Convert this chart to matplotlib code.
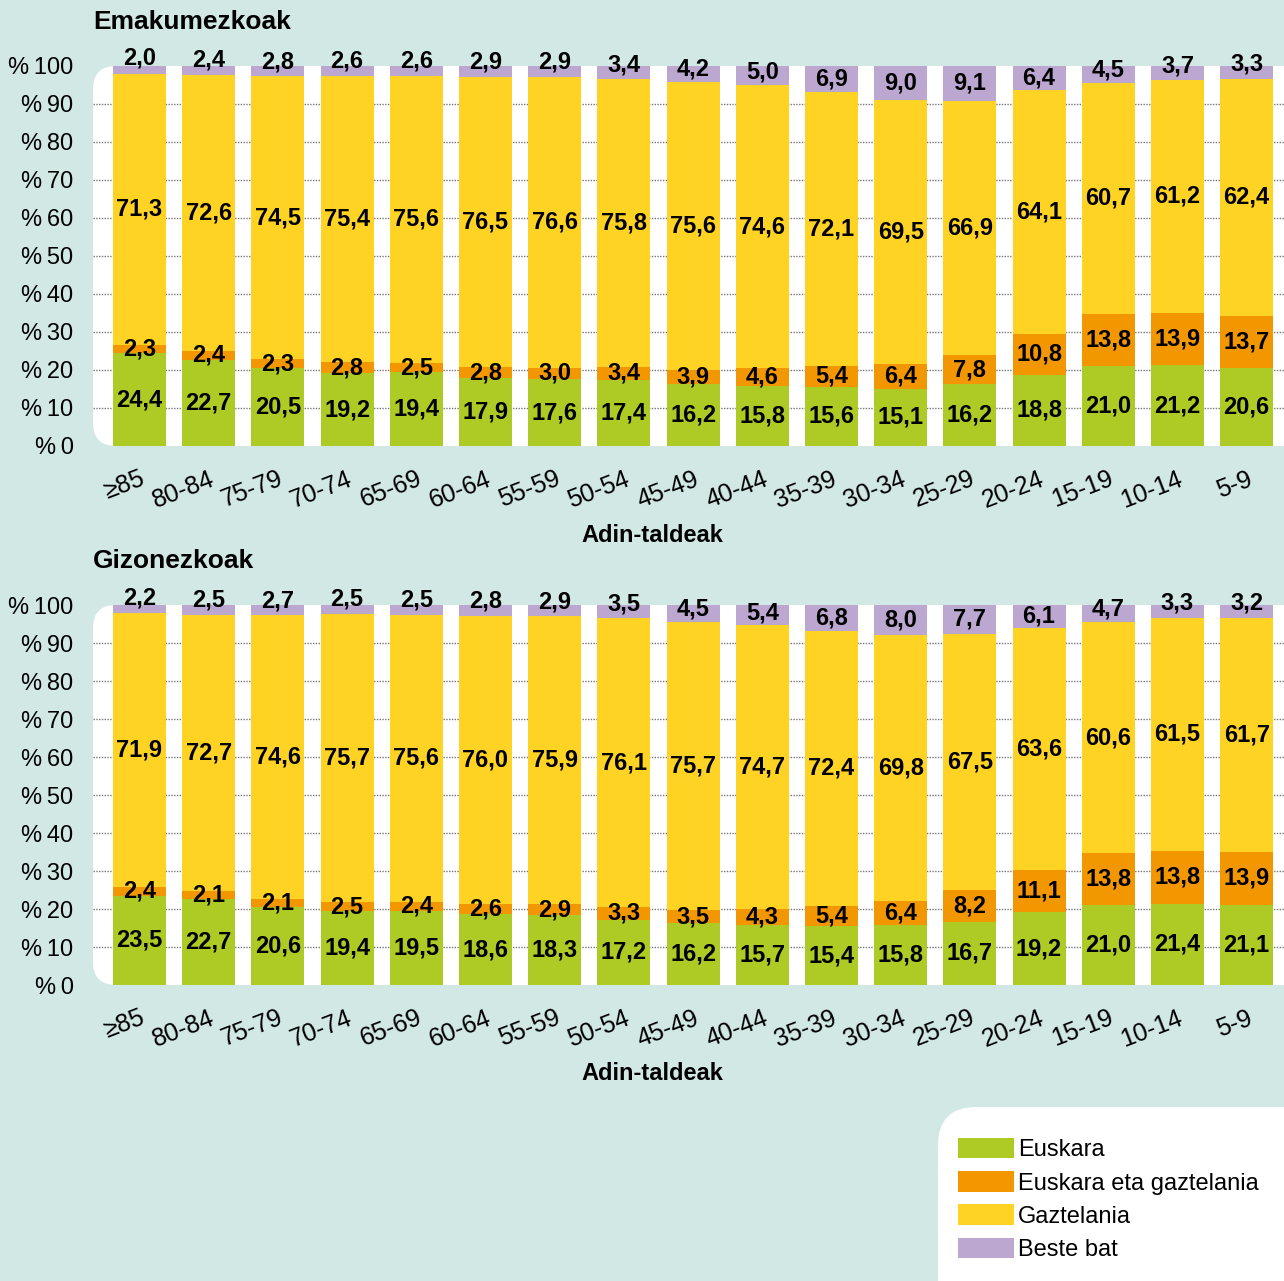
import numpy as np
import matplotlib
matplotlib.use('Agg')
from matplotlib import pyplot as plt
from matplotlib.patches import FancyBboxPatch, Patch
from matplotlib.transforms import ScaledTranslation

plt.rcParams['font.family'] = ['Liberation Sans', 'DejaVu Sans']

groups = ['≥85', '80-84', '75-79', '70-74', '65-69', '60-64', '55-59', '50-54',
          '45-49', '40-44', '35-39', '30-34', '25-29', '20-24', '15-19', '10-14', '5-9']
series_names = ['Euskara', 'Euskara eta gaztelania', 'Gaztelania', 'Beste bat']

# Emakumezkoak
w_eusk = [24.4, 22.7, 20.5, 19.2, 19.4, 17.9, 17.6, 17.4, 16.2, 15.8, 15.6, 15.1, 16.2, 18.8, 21.0, 21.2, 20.6]
w_bi = [2.3, 2.4, 2.3, 2.8, 2.5, 2.8, 3.0, 3.4, 3.9, 4.6, 5.4, 6.4, 7.8, 10.8, 13.8, 13.9, 13.7]
w_gazt = [71.3, 72.6, 74.5, 75.4, 75.6, 76.5, 76.6, 75.8, 75.6, 74.6, 72.1, 69.5, 66.9, 64.1, 60.7, 61.2, 62.4]
w_beste = [2.0, 2.4, 2.8, 2.6, 2.6, 2.9, 2.9, 3.4, 4.2, 5.0, 6.9, 9.0, 9.1, 6.4, 4.5, 3.7, 3.3]

# Gizonezkoak
m_eusk = [23.5, 22.7, 20.6, 19.4, 19.5, 18.6, 18.3, 17.2, 16.2, 15.7, 15.4, 15.8, 16.7, 19.2, 21.0, 21.4, 21.1]
m_bi = [2.4, 2.1, 2.1, 2.5, 2.4, 2.6, 2.9, 3.3, 3.5, 4.3, 5.4, 6.4, 8.2, 11.1, 13.8, 13.8, 13.9]
m_gazt = [71.9, 72.7, 74.6, 75.7, 75.6, 76.0, 75.9, 76.1, 75.7, 74.7, 72.4, 69.8, 67.5, 63.6, 60.6, 61.5, 61.7]
m_beste = [2.2, 2.5, 2.7, 2.5, 2.5, 2.8, 2.9, 3.5, 4.5, 5.4, 6.8, 8.0, 7.7, 6.1, 4.7, 3.3, 3.2]

colors = ['#aeca24', '#f39700', '#fed324', '#bca7d0']
bg = '#d1e8e5'
W, H = 1284, 1281


def fx(x):
    return x / W


def fy(y):
    return 1 - y / H


fig = plt.figure(figsize=(W / 100, H / 100), dpi=100, facecolor=bg)


def white_box(x0, y0, x1, y1, r):
    p = FancyBboxPatch((fx(x0), fy(y1)), fx(x1 - x0), (y1 - y0) / H,
                       boxstyle='round,pad=0,rounding_size=%f' % r,
                       transform=fig.transFigure, fc='white', ec='none', zorder=-1)
    fig.add_artist(p)


def panel(top, title, data):
    bottom = top + 380
    white_box(93, top, 1340, bottom, 0.018)
    ax = fig.add_axes([fx(93), fy(bottom), fx(W - 93), 380 / H])
    ax.set_facecolor('none')
    x = np.arange(len(groups))
    ax.set_xlim(-0.672, 16.54)
    ax.set_ylim(0, 100)
    ax.hlines(np.arange(10, 100, 10), -0.672, 16.54, colors='#777777',
              linestyles=(0, (1, 1)), linewidth=1.0, zorder=0)
    cum = np.zeros(len(groups))
    for k, vals in enumerate(data):
        vals = np.array(vals)
        ax.bar(x, vals, 0.766, bottom=cum, color=colors[k], zorder=2)
        for i, v in enumerate(vals):
            yc = cum[i] + v / 2
            if k == 3:
                yc += max(0, 4.4 - 0.7 * v)
            ax.text(i, yc, f'{v:.1f}'.replace('.', ','), ha='center', va='center',
                    fontsize=17, fontweight='bold', zorder=3, clip_on=False)
        cum += vals
    for s in ax.spines.values():
        s.set_visible(False)
    ax.set_yticks(np.arange(0, 101, 10))
    ax.set_yticklabels(['%\u2009' + str(v) for v in range(0, 101, 10)], fontsize=17)
    ax.tick_params(axis='y', length=0, pad=14)
    ax.set_xticks(x)
    ax.set_xticklabels(groups, fontsize=18, rotation=21, ha='right',
                       rotation_mode='anchor')
    ax.tick_params(axis='x', length=0, pad=15)
    off = ScaledTranslation(0, 0, fig.dpi_scale_trans)
    for lab in ax.get_xticklabels():
        lab.set_transform(lab.get_transform() + off)
    fig.text(fx(93), fy(top - 44), title, fontsize=19, fontweight='bold',
             ha='left', va='center')
    fig.text(fx(652), fy(bottom + 89), 'Adin-taldeak', fontsize=17,
             fontweight='bold', ha='center', va='center')
    return ax


panel(66, 'Emakumezkoak', [w_eusk, w_bi, w_gazt, w_beste])
panel(605, 'Gizonezkoak', [m_eusk, m_bi, m_gazt, m_beste])

white_box(938, 1107, 1340, 1340, 0.03)
handles = [Patch(facecolor=c, edgecolor='none') for c in colors]
fig.legend(handles, series_names, loc='upper left',
           bbox_to_anchor=(fx(958), fy(1138)), frameon=False, fontsize=17,
           handlelength=2.37, handleheight=0.95, handletextpad=0.17,
           labelspacing=0.42, borderpad=0, borderaxespad=0)

plt.savefig('out.png', dpi=100, facecolor=bg)
